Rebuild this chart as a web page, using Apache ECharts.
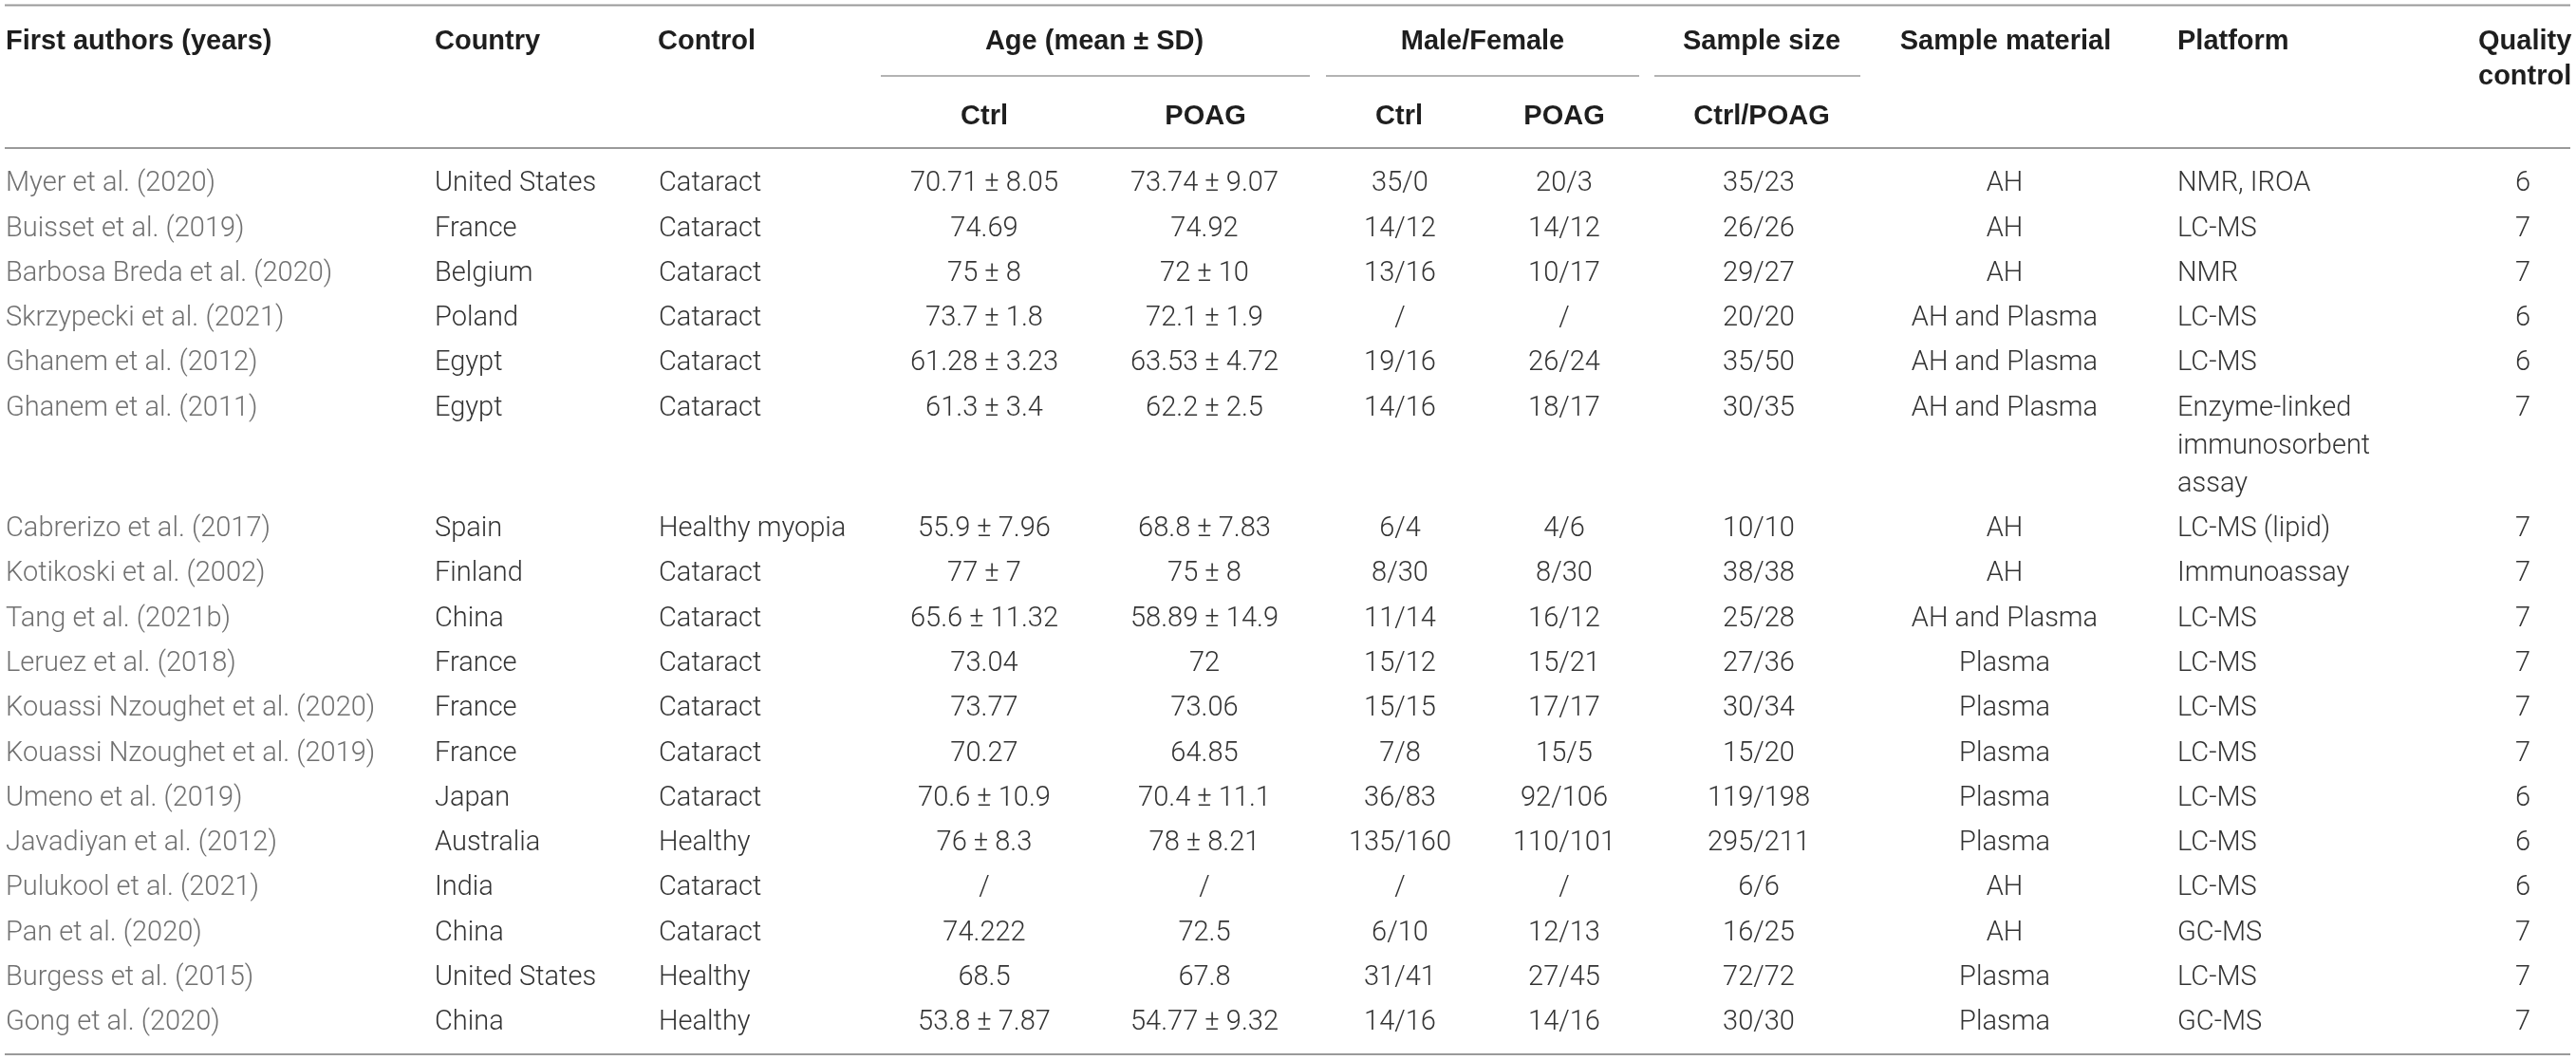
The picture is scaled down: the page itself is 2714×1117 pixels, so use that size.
<!DOCTYPE html>
<html>
<head>
<meta charset="utf-8">
<script src="https://cdn.jsdelivr.net/npm/echarts@6/dist/echarts.min.js"></script>
<style>
html, body { margin: 0; padding: 0; background: #fff; }
#table { width: 2714px; height: 1117px; }
</style>
</head>
<body>
<div id="table"></div>
<script>
// header texts
const headLabels = ['First authors (years)', 'Country', 'Control', 'Age (mean ± SD)', 'Male/Female', 'Sample size', 'Sample material', 'Platform', 'Quality\ncontrol'];
const subLabels = ['Ctrl', 'POAG', 'Ctrl', 'POAG', 'Ctrl/POAG'];

// table body, one array per column
const authors = ['Myer et al. (2020)', 'Buisset et al. (2019)', 'Barbosa Breda et al. (2020)', 'Skrzypecki et al. (2021)', 'Ghanem et al. (2012)', 'Ghanem et al. (2011)', 'Cabrerizo et al. (2017)', 'Kotikoski et al. (2002)', 'Tang et al. (2021b)', 'Leruez et al. (2018)', 'Kouassi Nzoughet et al. (2020)', 'Kouassi Nzoughet et al. (2019)', 'Umeno et al. (2019)', 'Javadiyan et al. (2012)', 'Pulukool et al. (2021)', 'Pan et al. (2020)', 'Burgess et al. (2015)', 'Gong et al. (2020)'];
const countries = ['United States', 'France', 'Belgium', 'Poland', 'Egypt', 'Egypt', 'Spain', 'Finland', 'China', 'France', 'France', 'France', 'Japan', 'Australia', 'India', 'China', 'United States', 'China'];
const controls = ['Cataract', 'Cataract', 'Cataract', 'Cataract', 'Cataract', 'Cataract', 'Healthy myopia', 'Cataract', 'Cataract', 'Cataract', 'Cataract', 'Cataract', 'Cataract', 'Healthy', 'Cataract', 'Cataract', 'Healthy', 'Healthy'];
const ageCtrl = ['70.71 ± 8.05', '74.69', '75 ± 8', '73.7 ± 1.8', '61.28 ± 3.23', '61.3 ± 3.4', '55.9 ± 7.96', '77 ± 7', '65.6 ± 11.32', '73.04', '73.77', '70.27', '70.6 ± 10.9', '76 ± 8.3', '/', '74.222', '68.5', '53.8 ± 7.87'];
const agePoag = ['73.74 ± 9.07', '74.92', '72 ± 10', '72.1 ± 1.9', '63.53 ± 4.72', '62.2 ± 2.5', '68.8 ± 7.83', '75 ± 8', '58.89 ± 14.9', '72', '73.06', '64.85', '70.4 ± 11.1', '78 ± 8.21', '/', '72.5', '67.8', '54.77 ± 9.32'];
const sexCtrl = ['35/0', '14/12', '13/16', '/', '19/16', '14/16', '6/4', '8/30', '11/14', '15/12', '15/15', '7/8', '36/83', '135/160', '/', '6/10', '31/41', '14/16'];
const sexPoag = ['20/3', '14/12', '10/17', '/', '26/24', '18/17', '4/6', '8/30', '16/12', '15/21', '17/17', '15/5', '92/106', '110/101', '/', '12/13', '27/45', '14/16'];
const sampleSize = ['35/23', '26/26', '29/27', '20/20', '35/50', '30/35', '10/10', '38/38', '25/28', '27/36', '30/34', '15/20', '119/198', '295/211', '6/6', '16/25', '72/72', '30/30'];
const materials = ['AH', 'AH', 'AH', 'AH and Plasma', 'AH and Plasma', 'AH and Plasma', 'AH', 'AH', 'AH and Plasma', 'Plasma', 'Plasma', 'Plasma', 'Plasma', 'Plasma', 'AH', 'AH', 'Plasma', 'Plasma'];
const platforms = ['NMR, IROA', 'LC-MS', 'NMR', 'LC-MS', 'LC-MS', 'Enzyme-linked\nimmunosorbent\nassay', 'LC-MS (lipid)', 'Immunoassay', 'LC-MS', 'LC-MS', 'LC-MS', 'LC-MS', 'LC-MS', 'LC-MS', 'LC-MS', 'GC-MS', 'LC-MS', 'GC-MS'];
const quality = ['6', '7', '7', '6', '6', '7', '7', '7', '7', '7', '7', '7', '6', '6', '6', '7', '7', '7'];

const W = 2714, H = 1117;
const BODY_FONT = 'Roboto, "Liberation Sans", Arial, sans-serif';
const HEAD_FONT = '"Liberation Sans", Arial, sans-serif';
const BODY = '#333333', FIRST = '#707070', HEAD = '#1e1e1e', RULE = '#9a9a9a';

// layout
const bodyCols = [
    { v: authors, x: 6, align: 'left', color: FIRST },
    { v: countries, x: 458, align: 'left' },
    { v: controls, x: 694, align: 'left' },
    { v: ageCtrl, x: 1037, align: 'center' },
    { v: agePoag, x: 1269, align: 'center' },
    { v: sexCtrl, x: 1475, align: 'center' },
    { v: sexPoag, x: 1648, align: 'center' },
    { v: sampleSize, x: 1853, align: 'center' },
    { v: materials, x: 2112, align: 'center' },
    { v: platforms, x: 2294, align: 'left' },
    { v: quality, x: 2658, align: 'center' }
];
const headPos = [[6, 'left'], [458, 'left'], [693, 'left'], [1153, 'center'], [1562, 'center'], [1856, 'center'], [2113, 'center'], [2294, 'left'], [2611, 'left']];
const subPos = [1037, 1270, 1474, 1648, 1856];
const groupRules = [[928, 1380], [1397, 1727], [1743, 1960]];

const headY = 44, subY = 123, groupRuleY = 80;
const firstRowY = 194, rowPitch = 47.3, linePitch = 40;

// y of every body row, taller rows push the next ones down
let rowY = [];
let extra = 0;
for (let i = 0; i < authors.length; i++) {
    rowY.push(firstRowY + i * rowPitch + extra * linePitch);
    let n = 1;
    bodyCols.forEach(c => { n = Math.max(n, String(c.v[i]).split('\n').length); });
    extra += n - 1;
}
const lastY = rowY[rowY.length - 1];

// text items: [x, y, text, align, color, bold, lineHeight]
let texts = [];
headLabels.forEach((t, i) => {
    texts.push([headPos[i][0], headY, t, headPos[i][1], HEAD, 1, 37]);
});
subLabels.forEach((t, i) => {
    texts.push([subPos[i], subY, t, 'center', HEAD, 1, 37]);
});
bodyCols.forEach(c => {
    c.v.forEach((t, i) => {
        texts.push([c.x, rowY[i], t, c.align, c.color || BODY, 0, linePitch]);
    });
});

// rules: [x1, x2, y, width]
let rules = [[5, 2708, 5.5, 2], [5, 2708, 156, 2], [5, 2708, lastY + 33, 2]];
groupRules.forEach(g => rules.push([g[0], g[1], groupRuleY, 1.6]));

const chart = echarts.init(document.getElementById('table'));
chart.setOption({
    backgroundColor: '#fff',
    animation: false,
    grid: { left: 0, right: 0, top: 0, bottom: 0 },
    xAxis: { type: 'value', min: 0, max: W, show: false },
    yAxis: { type: 'value', min: 0, max: H, inverse: true, show: false },
    series: [{
        type: 'custom',
        data: rules,
        renderItem: function(params, api) {
            let a = api.coord([api.value(0), api.value(2)]);
            let b = api.coord([api.value(1), api.value(2)]);
            return {
                type: 'line',
                shape: { x1: a[0], y1: a[1], x2: b[0], y2: b[1] },
                style: { stroke: RULE, lineWidth: api.value(3) }
            };
        }
    }, {
        type: 'custom',
        data: texts.map(t => [t[0], t[1]]),
        renderItem: function(params, api) {
            let t = texts[params.dataIndex];
            let p = api.coord([t[0], t[1]]);
            let lines = String(t[2]).split('\n').length;
            return {
                type: 'text',
                x: p[0],
                y: p[1] + (lines - 1) * t[6] / 2,
                style: {
                    text: t[2],
                    align: t[3],
                    verticalAlign: 'middle',
                    fill: t[4],
                    fontFamily: t[5] ? HEAD_FONT : BODY_FONT,
                    fontSize: 29,
                    fontWeight: t[5] ? 'bold' : 300,
                    lineHeight: t[6]
                }
            };
        }
    }]
});
</script>
</body>
</html>
